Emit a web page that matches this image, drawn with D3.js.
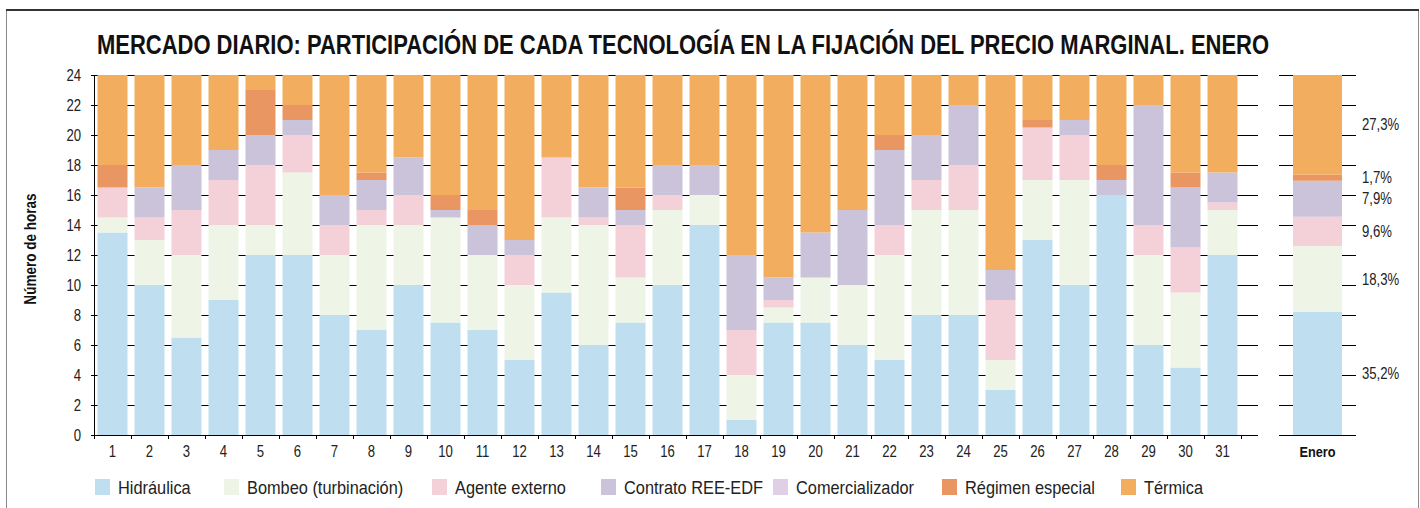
<!DOCTYPE html>
<html>
<head>
<meta charset="utf-8">
<script src="https://cdn.jsdelivr.net/npm/d3@7"></script>
<style>
  html, body { margin: 0; padding: 0; background: #fff; }
  svg { display: block; font-family: "Liberation Sans", Arial, sans-serif; }
</style>
</head>
<body>
<svg id="chart" width="1420" height="508"></svg>
<script>
const dias = d3.range(1, 32).map(String);

const hidraulica = [13.5, 10, 6.5, 9, 12, 12, 8, 7, 10, 7.5, 7, 5, 9.5, 6, 7.5, 10, 14, 1, 7.5, 7.5, 6, 5, 8, 8, 3, 13, 10, 16, 6, 4.5, 12];
const bombeo = [1, 3, 5.5, 5, 2, 5.5, 4, 7, 4, 7, 5, 5, 5, 8, 3, 5, 2, 3, 1, 3, 4, 7, 7, 7, 2, 4, 7, 0, 6, 5, 3];
const agente = [2, 1.5, 3, 3, 4, 2.5, 2, 1, 2, 0, 0, 2, 4, 0.5, 3.5, 1, 0, 3, 0.5, 0, 0, 2, 2, 3, 4, 3.5, 3, 0, 2, 3, 0.5];
const contrato = [0, 2, 3, 2, 2, 1, 2, 2, 2.5, 0.5, 2, 1, 0, 2, 1, 2, 2, 5, 1.5, 3, 5, 5, 3, 4, 2, 0, 1, 1, 8, 4, 2];
const comercializador = [0, 0, 0, 0, 0, 0, 0, 0, 0, 0, 0, 0, 0, 0, 0, 0, 0, 0, 0, 0, 0, 0, 0, 0, 0, 0, 0, 0, 0, 0, 0];
const regimen = [1.5, 0, 0, 0, 3, 1, 0, 0.5, 0, 1, 1, 0, 0, 0, 1.5, 0, 0, 0, 0, 0, 0, 1, 0, 0, 0, 0.5, 0, 1, 0, 1, 0];
const termica = [6, 7.5, 6, 5, 1, 2, 8, 6.5, 5.5, 8, 9, 11, 5.5, 7.5, 7.5, 6, 6, 12, 13.5, 10.5, 9, 4, 4, 2, 13, 3, 3, 6, 2, 6.5, 6.5];

// monthly bar (hours out of 24) and its labels, as printed
const enero = [8.2, 4.4, 1.95, 2.4, 0, 0.4, 6.65];
const eneroEtiquetas = ['35,2%', '18,3%', '9,6%', '7,9%', null, '1,7%', '27,3%'];

const series = ['Hidráulica', 'Bombeo (turbinación)', 'Agente externo', 'Contrato REE-EDF', 'Comercializador', 'Régimen especial', 'Térmica'];
const colores = ['#bfdff0', '#eef5e6', '#f4d0d8', '#cbc3da', '#e0d0e6', '#ea9663', '#f2ae5e'];
const yTicks = d3.range(0, 25, 2);

const valores = [hidraulica, bombeo, agente, contrato, comercializador, regimen, termica];

const tabla = dias.map((d, i) => {
  const row = { dia: d };
  series.forEach((s, j) => { row[s] = valores[j][i]; });
  return row;
});
const filaEnero = { dia: 'Enero' };
series.forEach((s, j) => { filaEnero[s] = enero[j]; });

// no condensed face installed: squeeze regular glyphs instead
const narrow = (sel, f = 0.82) => {
  sel.each(function () {
    const w = this.getComputedTextLength();
    d3.select(this).attr('textLength', w * f).attr('lengthAdjust', 'spacingAndGlyphs');
  });
};

const svg = d3.select('#chart');

const dim = {
  top: 75, bottom: 435,
  left: 94, right: 1241, gridEnd: 1258,
  eneroL: 1279, eneroR: 1356,
};

const scaleY = d3.scaleLinear().domain([0, 24]).range([dim.bottom, dim.top]);
const scaleX = d3.scaleBand().domain(dias).range([dim.left, dim.right])
  .paddingInner(7 / 37).paddingOuter(3.5 / 37);
const scaleXEnero = d3.scaleBand().domain(['Enero']).range([dim.eneroL, dim.eneroR])
  .paddingInner(0).paddingOuter(14 / 49);
const color = d3.scaleOrdinal().domain(series).range(colores);

const stack = d3.stack().keys(series);

// frame
svg.append('rect')
  .attr('x', 6.5).attr('y', 9.5).attr('width', 1412).attr('height', 520)
  .attr('fill', 'none').attr('stroke', '#8a8a8a').attr('stroke-width', 1);
svg.append('line')
  .attr('x1', 6).attr('x2', 1419).attr('y1', 10).attr('y2', 10)
  .attr('stroke', '#333').attr('stroke-width', 2);

// title, squeezed to the printed width
const titulo = svg.append('text')
  .attr('text-anchor', 'middle')
  .attr('font-size', 28).attr('font-weight', 'bold')
  .attr('fill', '#111')
  .text('MERCADO DIARIO: PARTICIPACIÓN DE CADA TECNOLOGÍA EN LA FIJACIÓN DEL PRECIO MARGINAL. ENERO');
const anchoTitulo = titulo.node().getComputedTextLength();
titulo.attr('transform', `translate(683,54) scale(${1173 / anchoTitulo},1)`);

// gridlines (behind bars)
const grid = svg.append('g').attr('class', 'grid');
grid.selectAll('line.main')
  .data(yTicks)
  .enter()
  .append('line')
  .attr('class', 'main')
  .attr('x1', dim.left - 3).attr('x2', dim.gridEnd)
  .attr('y1', (d) => Math.round(scaleY(d)) + 0.5)
  .attr('y2', (d) => Math.round(scaleY(d)) + 0.5)
  .attr('stroke', '#000');
grid.selectAll('line.enero')
  .data(yTicks)
  .enter()
  .append('line')
  .attr('class', 'enero')
  .attr('x1', dim.eneroL).attr('x2', dim.eneroR)
  .attr('y1', (d) => Math.round(scaleY(d)) + 0.5)
  .attr('y2', (d) => Math.round(scaleY(d)) + 0.5)
  .attr('stroke', '#000');

// daily bars
const capas = svg.append('g').selectAll('g')
  .data(stack(tabla))
  .enter()
  .append('g')
  .attr('fill', (d) => color(d.key));

capas.selectAll('rect')
  .data((d) => d)
  .enter()
  .append('rect')
  .attr('x', (d) => scaleX(d.data.dia))
  .attr('width', scaleX.bandwidth())
  .attr('y', (d) => scaleY(d[1]))
  .attr('height', (d) => scaleY(d[0]) - scaleY(d[1]));

// monthly bar
const eneroStack = stack([filaEnero]);
svg.append('g').selectAll('rect')
  .data(eneroStack)
  .enter()
  .append('rect')
  .attr('fill', (d) => color(d.key))
  .attr('x', scaleXEnero('Enero'))
  .attr('width', scaleXEnero.bandwidth())
  .attr('y', (d) => scaleY(d[0][1]))
  .attr('height', (d) => scaleY(d[0][0]) - scaleY(d[0][1]));

svg.append('g').selectAll('text')
  .data(eneroStack.filter((d, i) => eneroEtiquetas[i]))
  .enter()
  .append('text')
  .attr('x', 1362)
  .attr('y', (d) => scaleY((d[0][0] + d[0][1]) / 2))
  .attr('dy', '0.35em')
  .attr('font-size', 16)
  .attr('fill', '#222')
  .text((d) => eneroEtiquetas[series.indexOf(d.key)])
  .call(narrow);

// axes
const yAxis = svg.append('g')
  .attr('transform', `translate(${dim.left},0)`)
  .call(d3.axisLeft(scaleY).tickValues(yTicks).tickSize(3).tickPadding(10));
yAxis.select('.domain').attr('stroke', '#000');
yAxis.selectAll('text').attr('font-size', 16).attr('fill', '#222')
  .attr('font-family', '"Liberation Sans", Arial, sans-serif')
  .call(narrow);

const xAxis = svg.append('g')
  .attr('transform', `translate(0,${dim.bottom})`)
  .call(d3.axisBottom(scaleX).tickSize(0).tickPadding(11));
xAxis.select('.domain').remove();
xAxis.selectAll('text').attr('font-size', 16).attr('fill', '#222')
  .attr('font-family', '"Liberation Sans", Arial, sans-serif')
  .call(narrow);

svg.append('line')
  .attr('x1', dim.left).attr('x2', dim.gridEnd)
  .attr('y1', dim.bottom + 0.5).attr('y2', dim.bottom + 0.5)
  .attr('stroke', '#000');
svg.append('g').selectAll('line')
  .data(d3.range(0, 32))
  .enter()
  .append('line')
  .attr('x1', (i) => Math.round(dim.left + i * scaleX.step()) + 0.5)
  .attr('x2', (i) => Math.round(dim.left + i * scaleX.step()) + 0.5)
  .attr('y1', dim.bottom).attr('y2', dim.bottom + 4)
  .attr('stroke', '#000');

svg.append('text')
  .attr('x', scaleXEnero('Enero') + scaleXEnero.bandwidth() / 2)
  .attr('y', 457)
  .attr('text-anchor', 'middle')
  .attr('font-size', 15.5).attr('font-weight', 'bold').attr('fill', '#111')
  .text('Enero')
  .call(narrow);

svg.append('text')
  .attr('transform', 'translate(36,249) rotate(-90)')
  .attr('text-anchor', 'middle')
  .attr('font-size', 16.5).attr('font-weight', 'bold').attr('fill', '#111')
  .text('Número de horas')
  .call(narrow);

// legend
const legendX = [95, 224, 432, 601, 773, 942, 1121];
const legend = svg.append('g').selectAll('g')
  .data(series)
  .enter()
  .append('g')
  .attr('transform', (d, i) => `translate(${legendX[i]},479)`);
legend.append('rect')
  .attr('width', 15).attr('height', 16)
  .attr('fill', (d) => color(d));
legend.append('text')
  .attr('x', 23).attr('y', 8)
  .attr('dy', '0.35em')
  .attr('font-size', 19).attr('fill', '#222')
  .text((d) => d)
  .call(narrow, 0.86);
</script>
</body>
</html>
